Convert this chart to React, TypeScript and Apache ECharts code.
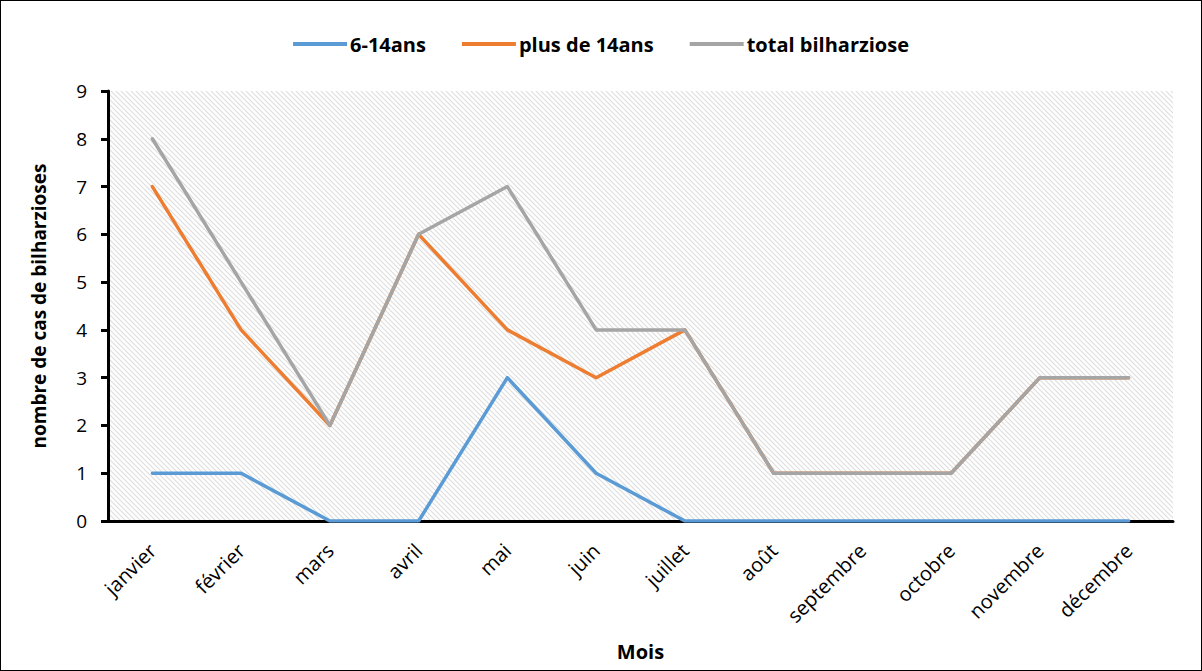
import React, { useEffect, useRef } from "react";
import * as echarts from "echarts";

const months = ["janvier", "février", "mars", "avril", "mai", "juin", "juillet", "août", "septembre", "octobre", "novembre", "décembre"];
const enfants = [1, 1, 0, 0, 3, 1, 0, 0, 0, 0, 0, 0];
const adultes = [7, 4, 2, 6, 4, 3, 4, 1, 1, 1, 3, 3];
const total = [8, 5, 2, 6, 7, 4, 4, 1, 1, 1, 3, 3];

const seriesNames = ["6-14ans", "plus de 14ans", "total bilharziose"];
const seriesColors = ["#5B9BD5", "#ED7D31", "#A5A5A5"];

const FONT = "'Open Sans', 'Liberation Sans', sans-serif";

// diagonal hatch tile for the plot area
const hatch =
  "data:image/svg+xml;charset=utf-8," +
  encodeURIComponent(
    '<svg xmlns="http://www.w3.org/2000/svg" width="5" height="5">' +
      '<rect width="5" height="5" fill="#ffffff"/>' +
      '<path d="M-1,-1 L6,6 M-1,4 L1,6 M4,-1 L6,1" stroke="#dedede" stroke-width="1.1"/>' +
      "</svg>"
  );

export default function App() {
  const ref = useRef<HTMLDivElement>(null);

  useEffect(() => {
    if (!ref.current) return;
    const chart = echarts.init(ref.current, undefined, { renderer: "svg" });
    const img = new Image();
    img.src = hatch;

    const data = [enfants, adultes, total];
    chart.setOption({
      animation: false,
      backgroundColor: "#ffffff",
      legend: {
        top: 28,
        left: "center",
        itemWidth: 54,
        itemHeight: 4,
        itemGap: 36,
        icon: "rect",
        textStyle: { fontFamily: FONT, fontWeight: "bold", fontSize: 20, color: "#000", padding: [0, 0, 0, -2] },
        data: seriesNames,
      },
      grid: {
        left: 107,
        right: 28,
        top: 90,
        bottom: 149,
        outerBoundsMode: "none",
        containLabel: false,
        show: true,
        borderWidth: 0,
        backgroundColor: { image: img, repeat: "repeat" } as any,
      } as any,
      xAxis: {
        type: "category",
        data: months,
        boundaryGap: true,
        name: "Mois",
        nameLocation: "middle",
        nameGap: 120,
        nameTextStyle: { fontFamily: FONT, fontWeight: "bold", fontSize: 20, color: "#000" },
        axisLine: { lineStyle: { color: "#000", width: 3 } },
        axisTick: { alignWithLabel: true, length: 6, lineStyle: { color: "#000", width: 3 } },
        axisLabel: { rotate: 45, fontFamily: FONT, fontSize: 20, color: "#000", margin: 26 },
        splitLine: { show: false },
      },
      yAxis: {
        type: "value",
        min: 0,
        max: 9,
        interval: 1,
        name: "nombre de cas de bilharzioses",
        nameLocation: "middle",
        nameGap: 60,
        nameTextStyle: { fontFamily: FONT, fontWeight: "bold", fontSize: 19, color: "#000" },
        axisLine: { show: true, lineStyle: { color: "#000", width: 3 } },
        axisTick: { show: true, length: 7, lineStyle: { color: "#000", width: 3 } },
        axisLabel: { fontFamily: FONT, fontSize: 19, color: "#000", margin: 21 },
        splitLine: { show: false },
      },
      series: seriesNames.map((name, i) => ({
        name,
        type: "line",
        data: data[i],
        symbol: "none",
        color: seriesColors[i],
        lineStyle: { color: seriesColors[i], width: 3.5, cap: "round", join: "round" },
      })),
    });
    return () => chart.dispose();
  }, []);

  return (
    <div
      style={{
        position: "fixed",
        left: 0,
        top: 0,
        width: 1202,
        height: 671,
        boxSizing: "border-box",
        border: "1.5px solid #000",
        background: "#fff",
      }}
    >
      <div ref={ref} style={{ width: "100%", height: "100%" }} />
    </div>
  );
}
